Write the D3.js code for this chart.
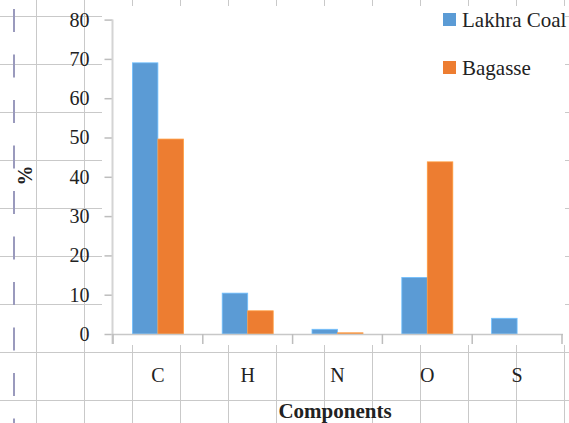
<!DOCTYPE html>
<html>
<head>
<meta charset="utf-8">
<script src="https://cdn.jsdelivr.net/npm/d3@7"></script>
<style>
  html, body { margin: 0; padding: 0; background: #ffffff; }
  svg { display: block; }
</style>
</head>
<body>
<svg id="chart" width="569" height="423"></svg>
<script>
// ---- data ----
const categories = ["C", "H", "N", "O", "S"];
const seriesNames = ["Lakhra Coal", "Bagasse"];
const lakhraCoal = [69, 10.4, 1.2, 14.4, 4.0];
const bagasse = [49.6, 5.9, 0.3, 43.8, 0];
const yTicks = [0, 10, 20, 30, 40, 50, 60, 70, 80];
const colors = ["#5b9bd5", "#ed7d31"];

const FONT = "'Liberation Serif', 'Times New Roman', Times, serif";
const svg = d3.select("#chart");
const W = 569, H = 423;

// ---- background sheet grid ----
const grid = svg.append("g");
grid.selectAll("line.v").data(d3.range(36, W, 48)).join("line")
  .attr("x1", d => d + 0.5).attr("x2", d => d + 0.5)
  .attr("y1", 0).attr("y2", H)
  .attr("stroke", "#c9c9c9").attr("stroke-width", 1);
grid.selectAll("line.h").data(d3.range(16, H, 48)).join("line")
  .attr("y1", d => d + 0.5).attr("y2", d => d + 0.5)
  .attr("x1", 0).attr("x2", W)
  .attr("stroke", "#c9c9c9").attr("stroke-width", 1);

// dashed margin line
svg.append("line")
  .attr("x1", 14).attr("x2", 14).attr("y1", 9).attr("y2", H)
  .attr("stroke", "#9a9abd").attr("stroke-width", 2)
  .attr("stroke-dasharray", "23 22.5");

// plot area (white)
svg.append("rect").attr("x", 102).attr("y", 6).attr("width", 463).attr("height", 339)
  .attr("fill", "#ffffff");

// ---- scales ----
const x = d3.scaleBand().domain(categories).range([113, 562]).paddingInner(0).paddingOuter(0);
const bw = x.bandwidth();
const x1 = d3.scaleBand().domain(seriesNames).range([bw / 2 - 25.5, bw / 2 + 25.5]);
const y = d3.scaleLinear().domain([0, 80]).range([334, 19.6]);

// ---- y axis ----
const yAxis = d3.axisLeft(y).tickValues(yTicks).tickSize(8).tickPadding(15).tickSizeOuter(0);
const gy = svg.append("g").attr("transform", "translate(112.5,0)").call(yAxis);
gy.select(".domain").remove();
gy.selectAll(".tick line").attr("stroke", "#bdbdbd").attr("stroke-width", 1.5);
gy.selectAll(".tick text").style("font-family", FONT)
  .style("font-size", "20px").attr("fill", "#222");
svg.append("line").attr("x1", 112.5).attr("x2", 112.5)
  .attr("y1", y(80)).attr("y2", 344)
  .attr("stroke", "#d4d4d4").attr("stroke-width", 2);

// ---- bars ----
const table = categories.map((c, i) => ({ cat: c, values: [lakhraCoal[i], bagasse[i]] }));
const groups = svg.append("g").selectAll("g").data(table).join("g")
  .attr("transform", d => `translate(${x(d.cat)},0)`);
groups.selectAll("rect").data(d => d.values.map((v, j) => ({ s: seriesNames[j], v, j })))
  .join("rect")
  .attr("x", d => x1(d.s))
  .attr("width", x1.bandwidth())
  .attr("y", d => y(d.v))
  .attr("height", d => y(0) - y(d.v))
  .attr("fill", d => colors[d.j])
  .attr("stroke", d => d.v > 0 ? d3.color(colors[d.j]).brighter(0.6) : "none")
  .attr("stroke-width", 0.8);

// ---- x axis ----
svg.append("line").attr("x1", 112).attr("x2", 563)
  .attr("y1", y(0) + 0.5).attr("y2", y(0) + 0.5)
  .attr("stroke", "#c8c8c8").attr("stroke-width", 1.5);
const bounds = categories.map(c => x(c)).concat([x(categories[categories.length - 1]) + bw]);
svg.append("g").selectAll("line").data(bounds).join("line")
  .attr("x1", d => d).attr("x2", d => d)
  .attr("y1", y(0)).attr("y2", y(0) + 10)
  .attr("stroke", "#bdbdbd").attr("stroke-width", 1.5);
const xAxis = d3.axisBottom(x).tickSize(0).tickPadding(0);
const gx = svg.append("g").attr("transform", "translate(0,366)").call(xAxis);
gx.select(".domain").remove();
gx.selectAll(".tick text").style("font-family", FONT)
  .style("font-size", "20px").attr("fill", "#222").attr("dy", "0.8em");

// ---- axis titles ----
svg.append("text").attr("x", 335).attr("y", 418).attr("text-anchor", "middle")
  .style("font-family", FONT).attr("fill", "#222")
  .style("font-size", "21px").style("font-weight", "bold").text("Components");
svg.append("text").attr("transform", "translate(25,175.5) rotate(-90)")
  .attr("text-anchor", "middle").attr("dominant-baseline", "central")
  .style("font-family", FONT).attr("fill", "#222")
  .style("font-size", "20px").style("font-weight", "bold").text("%");

// ---- legend ----
const legend = svg.append("g").selectAll("g").data(seriesNames).join("g")
  .attr("transform", (d, i) => `translate(443,${13 + i * 48})`);
legend.append("rect").attr("width", 13).attr("height", 13)
  .attr("fill", (d, i) => colors[i]);
legend.append("text").attr("x", 19).attr("y", 14)
  .style("font-family", FONT).attr("fill", "#222")
  .style("font-size", "21px").text(d => d);
</script>
</body>
</html>
